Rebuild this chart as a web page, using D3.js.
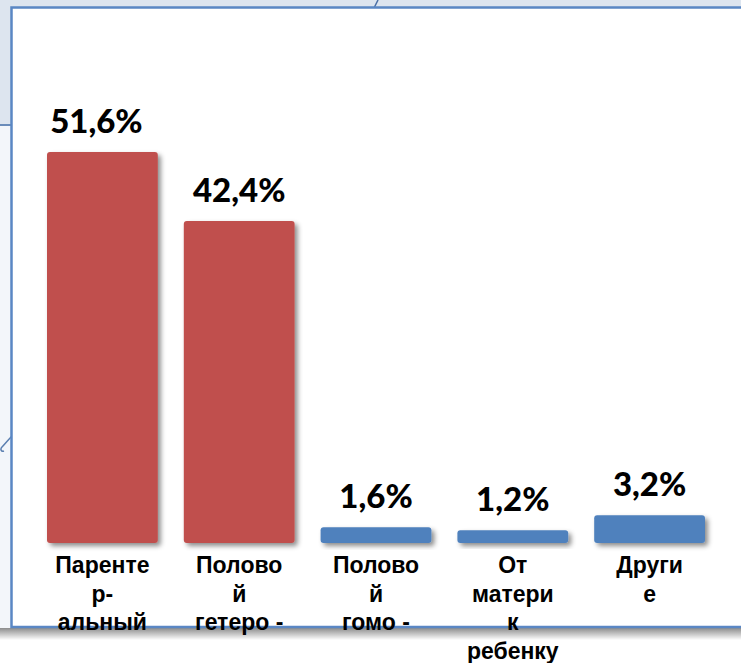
<!DOCTYPE html>
<html>
<head>
<meta charset="utf-8">
<script src="https://cdn.jsdelivr.net/npm/d3@7"></script>
<style>
  body { margin: 0; background: #fff; }
  svg { display: block; }
</style>
</head>
<body>
<script>
'use strict'

// categories, split into lines as in the original slide
const categories = ['Парентеральный', 'Половой гетеро', 'Половой гомо', 'От матери к ребенку', 'Другие']
const categoryLines = [
    ['Паренте', 'р-', 'альный'],
    ['Полово', 'й', 'гетеро -'],
    ['Полово', 'й', 'гомо -'],
    ['От', 'матери', 'к', 'ребенку'],
    ['Други', 'е']
]
const values = [51.6, 42.4, 1.6, 1.2, 3.2]
const valueLabels = ['51,6%', '42,4%', '1,6%', '1,2%', '3,2%']
const barColors = ['#C0504D', '#C0504D', '#4F81BD', '#4F81BD', '#4F81BD']

const width = 741
const height = 663

const svg = d3.select('body').append('svg')
    .attr('width', width)
    .attr('height', height)

const defs = svg.append('defs')

const shadow = defs.append('filter').attr('id', 'barShadow')
    .attr('x', '-20%').attr('y', '-20%').attr('width', '140%').attr('height', '160%')
shadow.append('feDropShadow')
    .attr('dx', 3).attr('dy', 3).attr('stdDeviation', 2.5)
    .attr('flood-color', '#000').attr('flood-opacity', 0.45)

const grad = defs.append('linearGradient').attr('id', 'frameShadow')
    .attr('x1', 0).attr('y1', 0).attr('x2', 0).attr('y2', 1)
grad.append('stop').attr('offset', '0%').attr('stop-color', '#000').attr('stop-opacity', 0.45)
grad.append('stop').attr('offset', '100%').attr('stop-color', '#000').attr('stop-opacity', 0)

// slide background around the frame
svg.append('rect').attr('width', width).attr('height', height).attr('fill', '#fff')
svg.append('rect').attr('x', 0).attr('y', 0).attr('width', width).attr('height', 8).attr('fill', '#dde5ef')
svg.append('rect').attr('x', 0).attr('y', 0).attr('width', 12).attr('height', 125).attr('fill', '#dde5ef')
svg.append('rect').attr('x', 0).attr('y', 125).attr('width', 12).attr('height', 503).attr('fill', '#f3f6fa')
svg.append('line').attr('x1', 0).attr('x2', 12).attr('y1', 125).attr('y2', 125)
    .attr('stroke', '#6a8cba').attr('stroke-width', 2)
svg.append('path').attr('d', 'M378,0 L374,8')
    .attr('stroke', '#4a6fa5').attr('stroke-width', 1.5).attr('fill', 'none')
svg.append('path').attr('d', 'M12,436 C8,440 5,444 2,447 C0,449 1,452 4,451')
    .attr('stroke', '#5b7fb0').attr('stroke-width', 1.5).attr('fill', 'none')

// frame
svg.append('rect').attr('x', 0).attr('y', 628).attr('width', width).attr('height', 12)
    .attr('fill', 'url(#frameShadow)')
svg.append('rect')
    .attr('x', 11.5).attr('y', 7.5)
    .attr('width', 800).attr('height', 619.5)
    .attr('fill', '#fff')
    .attr('stroke', '#5a87c4')
    .attr('stroke-width', 2.5)

// scales
const x = d3.scaleBand()
    .domain(categories)
    .range([47, 705])
    .paddingInner(0.19)
    .paddingOuter(0)

const y = d3.scaleLinear()
    .domain([-0.5, d3.max(values)])
    .range([543, 152])

const data = categories.map((c, i) => ({ cat: c, value: values[i], label: valueLabels[i], lines: categoryLines[i], color: barColors[i] }))

const bars = svg.append('g').attr('class', 'bars')
bars.selectAll('rect')
    .data(data)
    .enter()
    .append('rect')
    .attr('x', d => x(d.cat))
    .attr('y', d => y(d.value))
    .attr('width', x.bandwidth())
    .attr('height', d => y(-0.5) - y(d.value))
    .attr('rx', 3)
    .attr('fill', d => d.color)
    .attr('filter', 'url(#barShadow)')

// value labels
svg.append('g').attr('class', 'values')
    .selectAll('text')
    .data(data)
    .enter()
    .append('text')
    .attr('x', (d, i) => x(d.cat) + x.bandwidth() / 2 - (i === 0 ? 6 : 0))
    .attr('y', d => y(d.value) - 19)
    .attr('text-anchor', 'middle')
    .style('font-family', 'Lato, "Open Sans", sans-serif')
    .style('font-weight', 900)
    .style('font-size', '33px')
    .attr('fill', '#000')
    .text(d => d.label)

// category labels
const cats = svg.append('g').attr('class', 'categories')
    .selectAll('text')
    .data(data)
    .enter()
    .append('text')
    .attr('x', d => x(d.cat) + x.bandwidth() / 2)
    .attr('y', 573)
    .attr('text-anchor', 'middle')
    .style('font-family', '"Liberation Sans", Arial, sans-serif')
    .style('font-weight', 700)
    .style('font-size', '23px')
    .attr('fill', '#000')

cats.selectAll('tspan')
    .data(d => d.lines.map(l => ({ line: l, cx: x(d.cat) + x.bandwidth() / 2 })))
    .enter()
    .append('tspan')
    .attr('x', d => d.cx)
    .attr('dy', (d, i) => i === 0 ? 0 : 28.5)
    .text(d => d.line)
</script>
</body>
</html>
